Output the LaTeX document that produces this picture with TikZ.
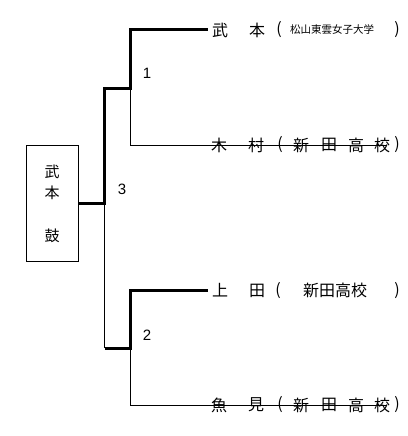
\documentclass[tikz,border=0pt]{standalone}
\usepackage{fontspec}
\newfontfamily\cjk{Noto Sans CJK JP}
\setmainfont{Liberation Sans}
\begin{document}
\begin{tikzpicture}[x=1pt,y=-1pt,
  thick line/.style={line width=3pt},
  thin line/.style={line width=0.9pt},
  nm/.style={inner sep=0pt,font=\cjk\fontsize{16}{16}\selectfont},
  sm/.style={inner sep=0pt,font=\cjk\fontsize{10.5}{10.5}\selectfont},
  num/.style={inner sep=0pt,font=\fontsize{15}{15}\selectfont},
  champ/.style={draw,line width=0.9pt,minimum width=52pt,minimum height=116pt,inner sep=0pt}]
\useasboundingbox[fill=white] (0,0) rectangle (407,436);
% champion box
\node[champ] (box) at (52,203) {};
\node[nm,font=\cjk\fontsize{15}{15}\selectfont] (c1) at (52,172) {武};
\node[nm,font=\cjk\fontsize{15}{15}\selectfont] (c2) at (52,193) {本};
\node[nm,font=\cjk\fontsize{15}{15}\selectfont] (c3) at (52,236) {鼓};
% bracket junction coordinates
\coordinate (j3) at (104.5,203);
\coordinate (j1) at (104.5,88);
\coordinate (j2) at (104.5,348);
\coordinate (k1) at (130.5,88);
\coordinate (k2) at (130.5,348);
\coordinate (t1) at (130.5,30);
\coordinate (t2) at (130.5,145);
\coordinate (t3) at (130.5,290.5);
\coordinate (t4) at (130.5,405);
\coordinate (e1) at (208,30);
\coordinate (e2) at (387,145);
\coordinate (e3) at (208,290.5);
\coordinate (e4) at (387,405);
% thin lines
\draw[thin line] (k1) -- (t2) -- (e2);
\draw[thin line] (k2) -- (t4) -- (e4);
\draw[thin line] (j3) -- (j2);
% thick lines (winner path)
\draw[thick line] (box.east |- j3) -- (j3) -- (j1) -- (k1) -- (t1) -- (e1);
\draw[thick line] (j2) -- (k2) -- (t3) -- (e3);
% round numbers
\node[num] (n1) at (147,73) {1};
\node[num] (n2) at (147,335) {2};
\node[num] (n3) at (122,189) {3};
% row 1
\node[nm] (a1) at (220,30) {武};
\node[nm] (a2) at (257,30) {本};
\node[nm] (a3) at (279,30) {(};
\node[sm] (a4) at (332,30) {松山東雲女子大学};
\node[nm] (a5) at (397,30) {)};
% row 2
\node[nm] (b1) at (219,145) {木};
\node[nm] (b2) at (256,145) {村};
\node[nm] (b3) at (280,145) {(};
\node[nm] (b4) at (301,145) {新};
\node[nm] (b5) at (329,145) {田};
\node[nm] (b6) at (356,145) {高};
\node[nm] (b7) at (382,145) {校};
\node[nm] (b8) at (397,145) {)};
% row 3
\node[nm] (d1) at (220,290.5) {上};
\node[nm] (d2) at (257,290.5) {田};
\node[nm] (d3) at (278,290.5) {(};
\node[nm] (d4) at (335,290.5) {新田高校};
\node[nm] (d5) at (397,290.5) {)};
% row 4
\node[nm] (f1) at (219,405) {魚};
\node[nm] (f2) at (256,405) {見};
\node[nm] (f3) at (280,405) {(};
\node[nm] (f4) at (301,405) {新};
\node[nm] (f5) at (329,405) {田};
\node[nm] (f6) at (356,405) {高};
\node[nm] (f7) at (382,405) {校};
\node[nm] (f8) at (397,405) {)};
\end{tikzpicture}
\end{document}
